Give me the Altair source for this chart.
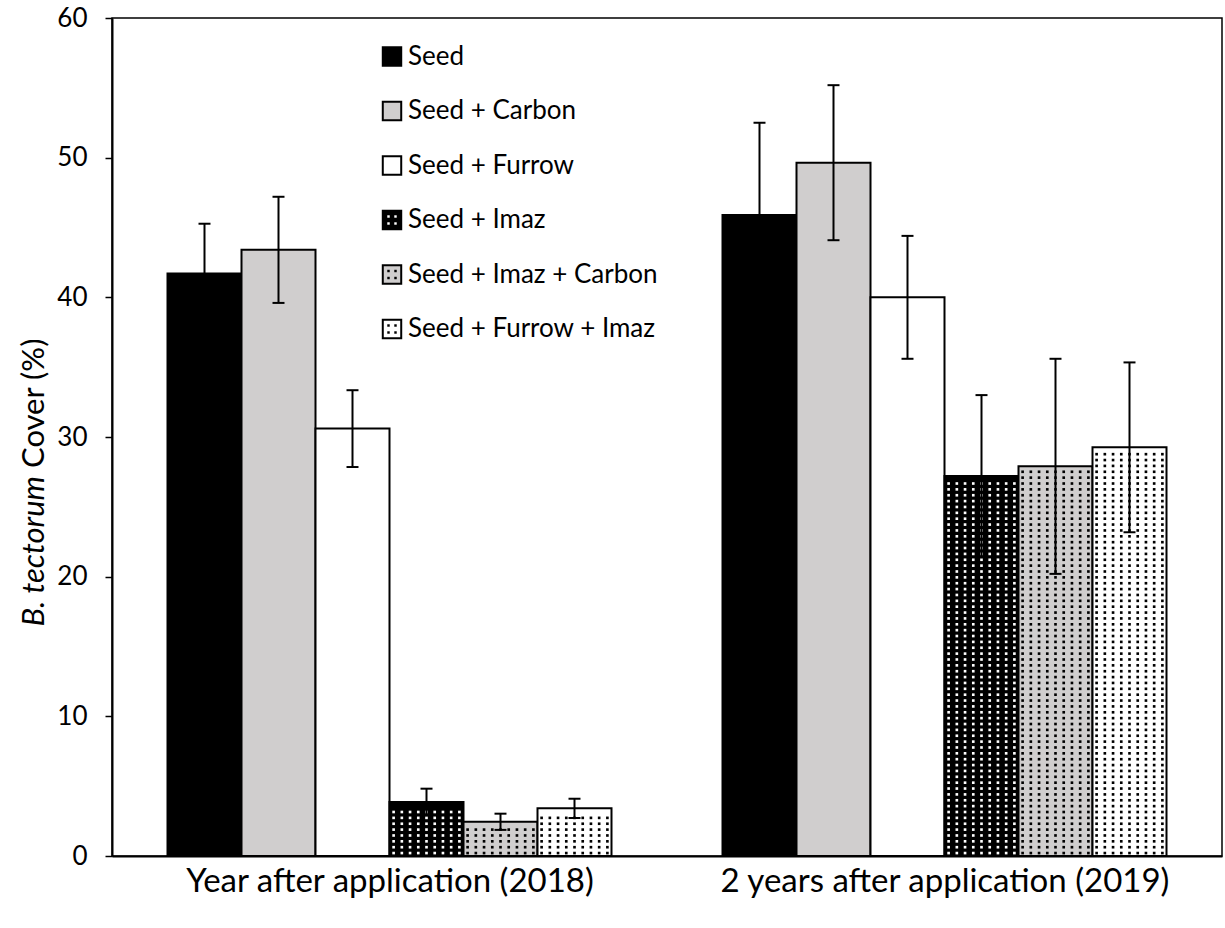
import altair as alt
import pandas as pd

groups = ["Year after application (2018)", "2 years after application (2019)"]
treatments = ["Seed", "Seed + Carbon", "Seed + Furrow", "Seed + Imaz",
              "Seed + Imaz + Carbon", "Seed + Furrow + Imaz"]
fills = ["#000000", "#d0cece", "#ffffff", "#000000", "#d0cece", "#ffffff"]
dot_colors = ["#000000", "#000000", "#000000", "#ffffff", "#000000", "#000000"]
patterned = [0, 0, 0, 1, 1, 1]

cover_2018 = [41.7, 43.4, 30.6, 3.87, 2.45, 3.41]
se_2018 = [3.57, 3.8, 2.75, 0.95, 0.58, 0.69]
cover_2019 = [45.9, 49.64, 40.0, 27.2, 27.9, 29.26]
se_2019 = [6.6, 5.55, 4.4, 5.8, 7.7, 6.08]

y_ticks = [0, 10, 20, 30, 40, 50, 60]
y_title = ["B. tectorum", "Cover (%)"]

rows = []
for g, (vals, ses) in enumerate([(cover_2018, se_2018), (cover_2019, se_2019)]):
    for k, t in enumerate(treatments):
        rows.append({"g": g, "k": k, "group": groups[g], "treatment": t,
                     "value": vals[k], "se": ses[k], "fill": fills[k],
                     "dot": dot_colors[k], "pat": patterned[k]})
df = pd.DataFrame(rows)

FONT = "Lato"
BW = 0.8 / 6  # bar width in x units

xscale = alt.Scale(domain=[0, 2], nice=False, zero=False)
yscale = alt.Scale(domain=[0, 60], nice=False)

base = alt.Chart(df).transform_calculate(
    x0=f"datum.g + 0.1 + datum.k * {BW}",
    x1=f"datum.g + 0.1 + (datum.k + 1) * {BW}",
    xc=f"datum.g + 0.1 + (datum.k + 0.5) * {BW}",
    zero="0",
    lo="datum.value - datum.se",
    hi="datum.value + datum.se",
    cl=f"datum.g + 0.1 + (datum.k + 0.5) * {BW} - 0.0108",
    cr=f"datum.g + 0.1 + (datum.k + 0.5) * {BW} + 0.0108",
)

x_axis = alt.Axis(values=[0.5, 1.5], labelExpr=f"datum.value < 1 ? '{groups[0]}' : '{groups[1]}'",
                  ticks=False, labelFontSize=33, labelFont=FONT, labelColor="black",
                  labelLimit=0, labelPadding=9, domainColor="black", domainWidth=2,
                  grid=False, title=None)
y_axis = alt.Axis(values=y_ticks, labelFontSize=26, labelFont=FONT, labelColor="black",
                  tickColor="black", tickSize=7, tickWidth=1.5, domainColor="black",
                  domainWidth=2, labelPadding=18, grid=False, title=None)

bars = base.mark_rect(stroke="black", strokeWidth=2).encode(
    x=alt.X("x0:Q", scale=xscale, axis=x_axis),
    x2="x1:Q",
    y=alt.Y("value:Q", scale=yscale, axis=y_axis),
    y2="zero:Q",
    fill=alt.Fill("fill:N", scale=None),
)

DY = 0.42
dots = base.transform_filter("datum.pat == 1").transform_calculate(
    cols="sequence(0, 9)",
    rws=f"sequence(0, floor(datum.value / {DY} - 0.3))",
).transform_flatten(["cols"]).transform_flatten(["rws"]).transform_calculate(
    dx=f"datum.x0 + (datum.cols + 0.5) * {BW} / 9",
    dy=f"(datum.rws + 0.5) * {DY}",
).mark_square(size=7, opacity=1, strokeWidth=0).encode(
    x=alt.X("dx:Q", scale=xscale),
    y=alt.Y("dy:Q", scale=yscale),
    fill=alt.Fill("dot:N", scale=None),
)

err = base.mark_rule(color="black", strokeWidth=2).encode(
    x=alt.X("xc:Q", scale=xscale), y=alt.Y("lo:Q", scale=yscale), y2="hi:Q")
cap_hi = base.mark_rule(color="black", strokeWidth=2).encode(
    x=alt.X("cl:Q", scale=xscale), x2="cr:Q", y=alt.Y("hi:Q", scale=yscale))
cap_lo = base.mark_rule(color="black", strokeWidth=2).encode(
    x=alt.X("cl:Q", scale=xscale), x2="cr:Q", y=alt.Y("lo:Q", scale=yscale))

# legend
leg = pd.DataFrame({"treatment": treatments, "fill": fills, "dot": dot_colors,
                    "pat": patterned, "idx": list(range(6))})
leg_base = alt.Chart(leg).transform_calculate(
    ly="38.5 + datum.idx * 54.5", lx="280", tx="296")
leg_sq = leg_base.mark_square(size=340, opacity=1, stroke="black", strokeWidth=2).encode(
    x=alt.X("lx:Q", scale=None, axis=None),
    y=alt.Y("ly:Q", scale=None, axis=None),
    fill=alt.Fill("fill:N", scale=None),
)
leg_dots = leg_base.transform_filter("datum.pat == 1").transform_calculate(
    ii="sequence(0, 4)").transform_flatten(["ii"]).transform_calculate(
    ox="280 + (datum.ii % 2) * 7 - 3.5",
    oy="38.5 + datum.idx * 54.5 + floor(datum.ii / 2) * 7 - 3.5"
).mark_square(size=6, opacity=1, strokeWidth=0).encode(
    x=alt.X("ox:Q", scale=None, axis=None),
    y=alt.Y("oy:Q", scale=None, axis=None),
    fill=alt.Fill("dot:N", scale=None),
)
leg_txt = leg_base.mark_text(align="left", baseline="middle", fontSize=26, font=FONT,
                             color="black").encode(
    x=alt.X("tx:Q", scale=None, axis=None),
    y=alt.Y("ly:Q", scale=None, axis=None),
    text="treatment:N",
)

# y title with italic species name
t1 = alt.Chart(pd.DataFrame({"t": [y_title[0]]})).mark_text(
    angle=270, align="right", baseline="middle", fontSize=31, font=FONT,
    fontStyle="italic", color="black").encode(
    x=alt.value(-77), y=alt.value(458), text="t:N")
t2 = alt.Chart(pd.DataFrame({"t": [y_title[1]]})).mark_text(
    angle=270, align="left", baseline="middle", fontSize=31, font=FONT,
    color="black").encode(
    x=alt.value(-77), y=alt.value(450), text="t:N")

chart = alt.layer(bars, dots, err, cap_hi, cap_lo, leg_sq, leg_dots, leg_txt, t1, t2).properties(
    width=1110, height=838,
    autosize=alt.AutoSizeParams(type="none"),
    padding={"left": 112, "top": 18, "right": 3, "bottom": 72},
    background="white",
).configure_view(stroke="black", strokeWidth=1.5)

chart.save("out.html", embed_options={"renderer": "svg", "actions": False})
